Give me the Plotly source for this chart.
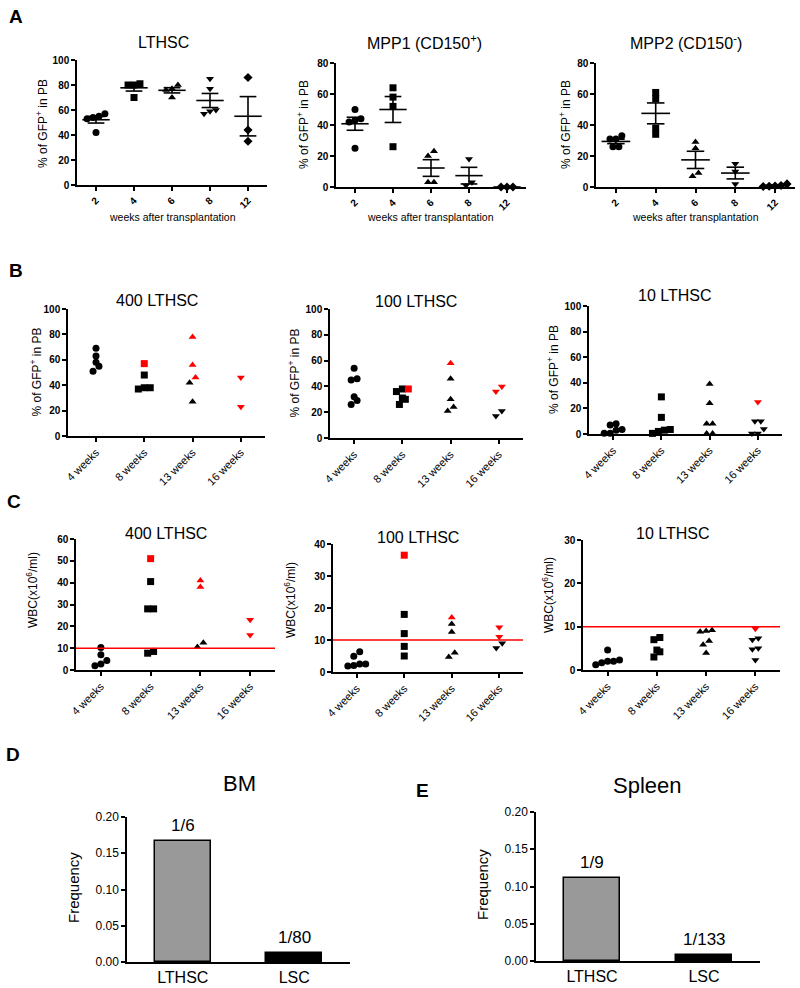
import numpy as np
import plotly.graph_objects as go

W, H = 800, 988

# ---------------- data ----------------
A_weeks = ["2", "4", "6", "8", "12"]
A_lthsc = [[57, 55, 54, 53, 42], [81, 80, 80, 70], [80, 77, 76, 70], [85, 77, 60, 57, 59], [86, 44, 35]]
A_mpp1 = [[50, 43, 42, 44, 25], [64, 58, 52, 26], [20, 23, 3, 3], [18, 3, 1], [0, 0, 0]]
A_mpp2 = [[33, 31, 31, 26, 26], [61, 57, 38, 34], [29, 25, 7, 9], [15, 10, 2], [2, 1, 0.6, 0.3, 0.5]]

time_labels = ["4 weeks", "8 weeks", "13 weeks", "16 weeks"]

# panel B: % GFP+ in PB (black / red animals)
B400_black = [[63, 69, 58, 55, 51], [48, 38, 37, 38], [42, 27], []]
B400_red = [[], [57], [78, 56, 46], [46, 23]]
B100_black = [[54, 45, 46, 32, 29, 26], [31, 36, 38, 30, 26], [46, 30, 21, 24], [21, 17]]
B100_red = [[], [38], [58], [40, 36]]
B10_black = [[3, 8, 0.5, 7, 0.5, 3.5], [29, 13, 3, 0.5, 2, 3.5], [39, 24, 8, 8, 0.3, 0.3], [10, 10, 4, 0.3, 0.3]]
B10_red = [[], [], [], [25]]

# panel C: WBC (x10^6/ml)
C400_black = [[10.3, 4.3, 7, 2, 2.8], [40.5, 28, 28, 7.7, 8.5], [10.5, 12.5], []]
C400_red = [[], [51], [41, 38], [23, 16]]
C100_black = [[6.3, 4.9, 2.5, 1.9, 2, 2.5], [18, 12, 8, 5], [15, 12.5, 4.7, 6], [7.5, 9]]
C100_red = [[], [36.5], [17], [14, 11]]
C10_black = [[4.6, 1.7, 2.3, 1.2, 2, 2], [7.5, 7, 4.6, 4.2, 3], [9.2, 8.8, 9, 6.7, 5.8, 3.9], [7.3, 7, 5, 4.8, 2.3]]
C10_red = [[], [], [], [9.5]]
WBC_threshold = 10

# panels D / E
cell_types = ["LTHSC", "LSC"]
BM_denominators = [6, 80]
Spleen_denominators = [9, 133]

# ---------------- helpers ----------------
FONT = "Liberation Sans, Arial, sans-serif"
RED = "#ff0000"
MSIZE = 7
A_symbols = ["circle", "square", "triangle-up", "triangle-down", "diamond"]
BC_symbols = ["circle", "square", "triangle-up", "triangle-down"]


def px_x(a, b):
    return [a / W, b / W]


def px_y(top, bottom):
    return [1 - bottom / H, 1 - top / H]


fig = go.Figure()
layout = {}
annotations = []
shapes = []

AX = dict(showline=True, linecolor="black", linewidth=1.5, ticks="outside", ticklen=4,
          tickwidth=1.5, tickcolor="black", showgrid=False, zeroline=False, mirror=False,
          fixedrange=True, automargin=False)
BOLD_TICK = dict(family=FONT, size=10, color="black", weight="bold")
geom = {}


def setup(n, xd, yd, xr, yr, ydtick, xvals, xtext, xfont, yfont, xangle, yfmt=None):
    xk = "xaxis" if n == 1 else f"xaxis{n}"
    yk = "yaxis" if n == 1 else f"yaxis{n}"
    xref = "x" if n == 1 else f"x{n}"
    yref = "y" if n == 1 else f"y{n}"
    layout[xk] = dict(AX, domain=px_x(*xd), range=xr, anchor=yref, tickmode="array",
                      tickvals=xvals, ticktext=xtext, tickangle=xangle, tickfont=xfont)
    ya = dict(AX, domain=px_y(*yd), range=yr, anchor=xref, tick0=0, dtick=ydtick, tickfont=yfont)
    if yfmt:
        ya["tickformat"] = yfmt
    layout[yk] = ya
    ppy = (yd[1] - yd[0]) / (yr[1] - yr[0])
    ppc = (xd[1] - xd[0]) / (xr[1] - xr[0])
    geom[n] = (xref, yref, ppy, ppc)
    return xref, yref


def swarm(vals, ppy, ppc):
    offs = [0.0] * len(vals)
    order = sorted(range(len(vals)), key=lambda i: vals[i])
    thr = 0.85 * MSIZE / ppy
    step = 0.85 * MSIZE / ppc
    rows, cur = [], []
    for i in order:
        if cur and vals[i] - vals[cur[0]] >= thr:
            rows.append(cur)
            cur = []
        cur.append(i)
    if cur:
        rows.append(cur)
    for r in rows:
        m = len(r)
        for j, i in enumerate(r):
            offs[i] = (j - (m - 1) / 2) * step
    return offs


def scatter_groups(n, groups_black, groups_red, symbols):
    xref, yref, ppy, ppc = geom[n]
    for i, blk in enumerate(groups_black):
        red = groups_red[i] if groups_red is not None else []
        vals = list(blk) + list(red)
        if not vals:
            continue
        cols = ["black"] * len(blk) + [RED] * len(red)
        offs = swarm(vals, ppy, ppc)
        fig.add_trace(go.Scatter(
            x=[i + o for o in offs], y=vals, mode="markers", xaxis=xref, yaxis=yref,
            marker=dict(symbol=symbols[i], size=MSIZE, color=cols, line=dict(width=0)),
            cliponaxis=False, hoverinfo="skip", showlegend=False))


def mean_sem(n, groups):
    xref, yref, _, _ = geom[n]
    xs, ys = [], []
    for i, g in enumerate(groups):
        a = np.asarray(g, float)
        m = a.mean()
        s = a.std(ddof=1) / np.sqrt(len(a)) if len(a) > 1 else 0.0
        xs += [i - 0.36, i + 0.36, None, i - 0.22, i + 0.22, None,
               i - 0.22, i + 0.22, None, i, i, None]
        ys += [m, m, None, m + s, m + s, None, m - s, m - s, None, m - s, m + s, None]
    fig.add_trace(go.Scatter(x=xs, y=ys, mode="lines", xaxis=xref, yaxis=yref,
                             line=dict(color="black", width=1.6), cliponaxis=False,
                             hoverinfo="skip", showlegend=False))


def text(x, y, s, size, bold=False, angle=0):
    annotations.append(dict(x=x / W, y=1 - y / H, xref="paper", yref="paper", text=s,
                            showarrow=False, xanchor="center", yanchor="middle", textangle=angle,
                            font=dict(family=FONT, size=size, color="black",
                                      weight="bold" if bold else "normal")))


# ---------------- panel A ----------------
A_cfg = [
    (1, (77, 267), (60, 185), [0, 100], 20, A_lthsc, "LTHSC", 163, 42),
    (2, (336, 526), (63, 187), [0, 80], 20, A_mpp1, "MPP1 (CD150<sup>+</sup>)", 424, 42),
    (3, (596, 795), (63, 187), [0, 80], 20, A_mpp2, "MPP2 (CD150<sup>-</sup>)", 686, 42),
]
for n, xd, yd, yr, dt, data, title, tx, ty in A_cfg:
    setup(n, xd, yd, [-0.5, 4.5], yr, dt, list(range(len(A_weeks))), A_weeks,
          BOLD_TICK, BOLD_TICK, -45)
    scatter_groups(n, data, None, A_symbols)
    mean_sem(n, data)
    text(tx, ty, title, 16)
    text((xd[0] + xd[1]) / 2, 217, "weeks after transplantation", 10.5)
text(42, 124, "% of GFP<sup>+</sup> in PB", 12, angle=-90)
text(303, 125, "% of GFP<sup>+</sup> in PB", 12, angle=-90)
text(565, 125, "% of GFP<sup>+</sup> in PB", 12, angle=-90)

WEEK_FONT = dict(family=FONT, size=11, color="black")

# ---------------- panel B ----------------
B_cfg = [
    (4, (68, 265), (309, 436), [-0.58, 3.5], B400_black, B400_red, "400 LTHSC", 157, 300, 35),
    (5, (330, 523), (309, 438), [-0.5, 3.5], B100_black, B100_red, "100 LTHSC", 416, 301, 293),
    (6, (589, 782), (306, 434), [-0.5, 3.5], B10_black, B10_red, "10 LTHSC", 675, 296, 553),
]
for n, xd, yd, xr, blk, red, title, tx, ty, ytx in B_cfg:
    setup(n, xd, yd, xr, [0, 100], 20, list(range(len(time_labels))), time_labels,
          WEEK_FONT, BOLD_TICK, -45)
    scatter_groups(n, blk, red, BC_symbols)
    text(tx, ty, title, 16)
    text(ytx, (yd[0] + yd[1]) / 2, "% of GFP<sup>+</sup> in PB", 12, angle=-90)

# ---------------- panel C ----------------
C_cfg = [
    (7, (76, 275), (539, 670), [0, 60], C400_black, C400_red, "400 LTHSC", 166, 533, 32, 590),
    (8, (333, 523), (544, 672), [0, 40], C100_black, C100_red, "100 LTHSC", 418, 537, 290, 600),
    (9, (583, 780), (540, 670), [0, 30], C10_black, C10_red, "10 LTHSC", 673, 533, 548, 595),
]
for n, xd, yd, yr, blk, red, title, tx, ty, ytx, yty in C_cfg:
    xref, yref = setup(n, xd, yd, [-0.5, 3.5], yr, 10, list(range(len(time_labels))),
                       time_labels, WEEK_FONT, BOLD_TICK, -45)
    shapes.append(dict(type="line", xref=f"{xref} domain", yref=yref, x0=0, x1=1,
                       y0=WBC_threshold, y1=WBC_threshold, line=dict(color=RED, width=1.5)))
    scatter_groups(n, blk, red, BC_symbols)
    text(tx, ty, title, 16)
    text(ytx, yty, "WBC(x10<sup>6</sup>/ml)", 12, angle=-90)

# ---------------- panels D / E ----------------
PLAIN_TICK = dict(family=FONT, size=12, color="black")
CAT_FONT = dict(family=FONT, size=16, color="black")
DE_cfg = [
    (10, (127, 350), (817, 962), BM_denominators, "BM", 239, 783, 73, 888),
    (11, (536, 760), (812, 961), Spleen_denominators, "Spleen", 647, 785, 482, 885),
]
for n, xd, yd, denoms, title, tx, ty, ytx, yty in DE_cfg:
    xref, yref = setup(n, xd, yd, [-0.5, 1.5], [0, 0.2], 0.05, [0, 1], cell_types,
                       CAT_FONT, PLAIN_TICK, 0, yfmt=".2f")
    layout["xaxis" + str(n)]["ticks"] = ""
    vals = [1.0 / d for d in denoms]
    fig.add_trace(go.Bar(x=[0, 1], y=vals, width=0.5, xaxis=xref, yaxis=yref,
                         marker=dict(color=["#999999", "black"], line=dict(color="black", width=1.5)),
                         hoverinfo="skip", showlegend=False))
    for i, (v, d) in enumerate(zip(vals, denoms)):
        annotations.append(dict(x=i, y=v, xref=xref, yref=yref, text=f"1/{d}", showarrow=False,
                                xanchor="center", yanchor="bottom", yshift=4,
                                font=dict(family=FONT, size=17, color="black")))
    text(tx, ty, title, 22)
    text(ytx, yty, "Frequency", 15, angle=-90)

# panel letters
for letter, x, y in [("A", 16, 16), ("B", 16, 270), ("C", 14, 501), ("D", 13, 754), ("E", 422, 790)]:
    text(x, y, letter, 19, bold=True)

fig.update_layout(**layout)
fig.update_layout(width=W, height=H, autosize=False, margin=dict(l=0, r=0, t=0, b=0, pad=0),
                  paper_bgcolor="white", plot_bgcolor="white", showlegend=False,
                  annotations=annotations, shapes=shapes, bargap=0,
                  font=dict(family=FONT, color="black"))

fig.write_html("out.html", config={"displayModeBar": False},
               post_script="document.body.style.margin='0';document.body.style.overflow='hidden';")
